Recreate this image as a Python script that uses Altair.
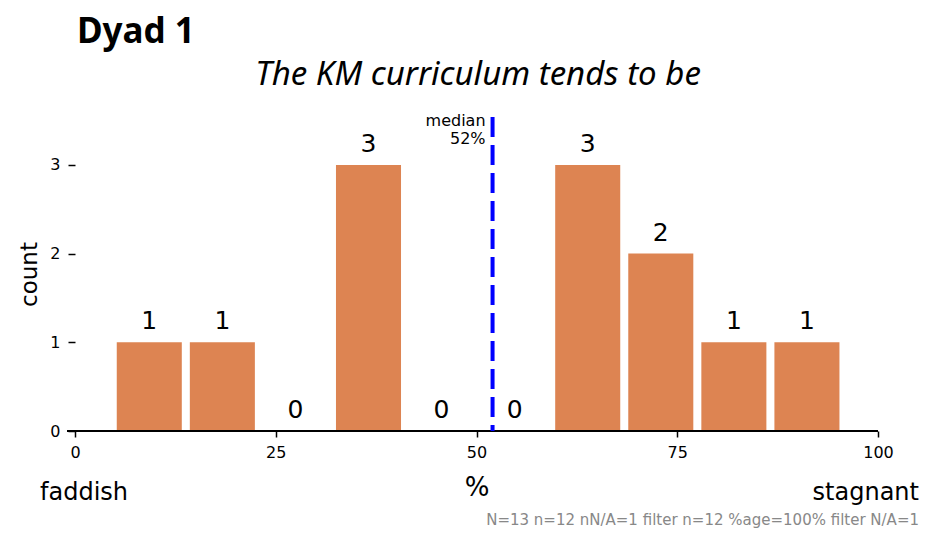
import altair as alt
import pandas as pd

# data
bin_start = [5.2, 14.3, 23.4, 32.5, 41.6, 50.7, 59.8, 68.9, 78.0, 87.1]
bin_end = [13.3, 22.4, 31.5, 40.6, 49.7, 58.8, 67.9, 77.0, 86.1, 95.2]
counts = [1, 1, 0, 3, 0, 0, 3, 2, 1, 1]
median_value = 52
x_ticks = [0, 25, 50, 75, 100]
y_ticks = [0, 1, 2, 3]

title_text = "Dyad 1"
subtitle_text = "The KM curriculum tends to be"
left_label = "faddish"
right_label = "stagnant"
footnote = "N=13 n=12 nN/A=1 filter n=12 %age=100% filter N/A=1"

df = pd.DataFrame({
    "start": bin_start,
    "end": bin_end,
    "mid": [(a + b) / 2 for a, b in zip(bin_start, bin_end)],
    "count": counts,
})
med_df = pd.DataFrame({"median": [median_value], "label": [["median", f"{median_value}%"]]})

W, H = 803, 314
FONT = "DejaVu Sans"

xscale = alt.Scale(domain=[0, 100], nice=False, zero=False)
yscale = alt.Scale(domain=[0, 3.54], nice=False)

bars = alt.Chart(df).mark_bar(color="#DD8452").encode(
    x=alt.X("start:Q", scale=xscale,
            axis=alt.Axis(values=x_ticks, title="%", domain=False, grid=False,
                          tickColor="black", tickSize=6, tickWidth=1.5,
                          labelFontSize=16, labelFont=FONT, labelColor="black", labelPadding=7,
                          labelFlush=False,
                          titleFont=FONT, titleFontSize=26, titleFontWeight="normal",
                          titleColor="black", titlePadding=14)),
    x2="end:Q",
    y=alt.Y("count:Q", scale=yscale,
            axis=alt.Axis(values=y_ticks, title="count", domain=False, grid=False,
                          format="d",
                          tickColor="black", tickSize=7, tickWidth=1.5,
                          labelFontSize=16, labelFont=FONT, labelColor="black", labelPadding=8,
                          titleFont=FONT, titleFontSize=23, titleFontWeight="normal",
                          titleColor="black", titlePadding=8)),
    y2=alt.Y2(datum=0),
)

labels = alt.Chart(df).mark_text(baseline="alphabetic", dy=-13, fontSize=25, font=FONT,
                                 color="black").encode(
    x=alt.X("mid:Q", scale=xscale),
    y=alt.Y("count:Q", scale=yscale),
    text="count:Q",
)

axis_line = alt.Chart(df).mark_rule(color="black", strokeWidth=2).encode(
    x=alt.value(-8), x2=alt.value(W), y=alt.value(H)
)

median_line = alt.Chart(med_df).mark_rule(color="#0000ff", strokeWidth=4,
                                          strokeDash=[20, 8]).encode(
    x=alt.X("median:Q", scale=xscale),
    y=alt.value(0), y2=alt.value(H),
)

median_text = alt.Chart(med_df).mark_text(align="right", baseline="alphabetic", dx=-7,
                                          fontSize=16, font=FONT, lineHeight=18,
                                          color="black").encode(
    x=alt.X("median:Q", scale=xscale),
    y=alt.value(9),
    text="label",
)

def ann(text, x, y, align, size, weight="normal", style="normal", color="black", font=FONT):
    return alt.Chart(pd.DataFrame({"t": [text]})).mark_text(
        align=align, baseline="alphabetic", fontSize=size, fontWeight=weight,
        fontStyle=style, color=color, font=font,
    ).encode(x=alt.value(x), y=alt.value(y), text="t:N")

title = ann(title_text, 2, -74, "left", 35, weight="bold", font="Noto Sans")
subtitle = ann(subtitle_text, 403, -32, "center", 33, style="italic", font="Noto Sans")
left = ann(left_label, -35, 69 + H, "left", 24)
right = ann(right_label, 844, 69 + H, "right", 24)
foot = ann(footnote, 844, 94 + H, "right", 15, color="#888888")

chart = alt.layer(bars, labels, axis_line, median_line, median_text,
                  title, subtitle, left, right, foot).properties(
    width=W, height=H,
    autosize=alt.AutoSizeParams(type="none"),
    padding={"left": 67, "top": 109, "right": 42, "bottom": 97},
).configure_view(stroke=None)

chart.save("out.html", embed_options={"renderer": "svg", "actions": False})
